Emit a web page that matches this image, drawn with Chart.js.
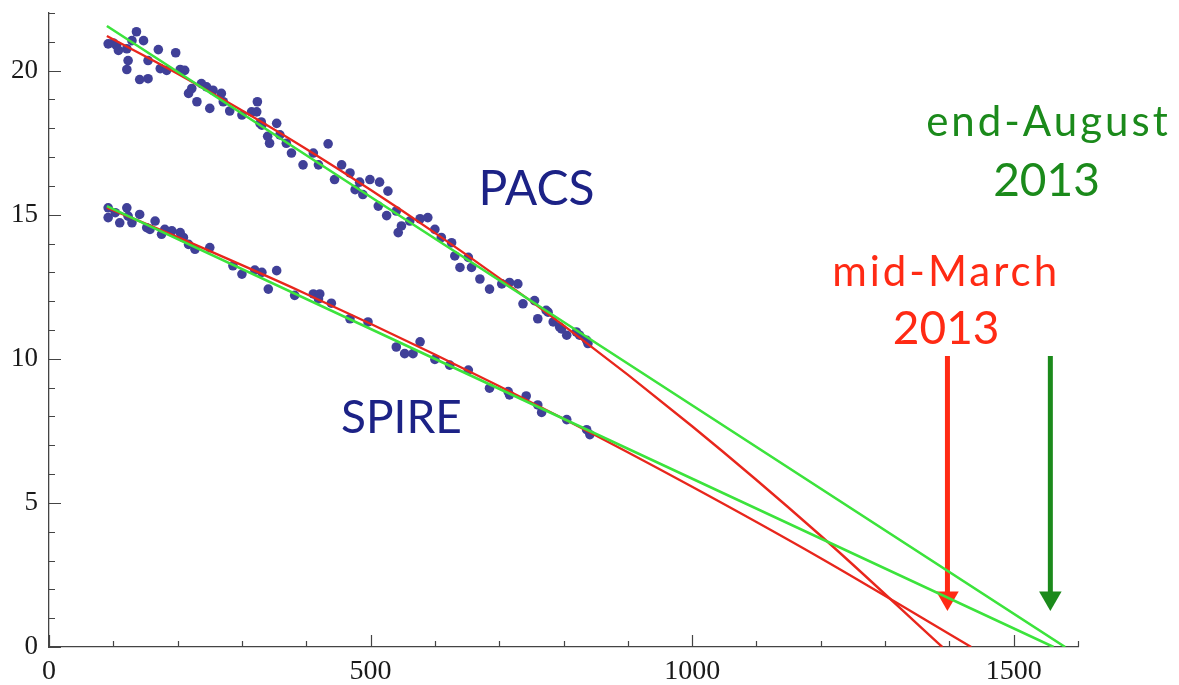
<!doctype html>
<html lang="en">
<head>
<meta charset="utf-8">
<title>PACS / SPIRE</title>
<script src="https://cdn.jsdelivr.net/npm/chart.js@4.4.1/dist/chart.umd.min.js"></script>
<style>
  html, body { margin: 0; padding: 0; background: #fff; }
  #wrap { width: 1179px; height: 685px; }
</style>
</head>
<body>
<div id="wrap"><canvas id="myChart"></canvas></div>
<script type="text/javascript">
// ---- data ----
var pacsX = [92, 100, 105, 108, 121, 123, 121, 129, 136, 147, 154, 154, 170, 173, 183, 197, 204, 211,
  217, 222, 230, 237, 245, 250, 255, 268, 271, 281, 300, 315, 324, 331, 340, 323, 328, 354, 343, 359,
  369, 377, 395, 411, 419, 434, 444, 455, 468, 476, 483, 499, 514, 527, 488, 512, 525, 540, 548, 561,
  577, 589, 600, 610, 626, 631, 652, 639, 657, 670, 685, 704, 716, 729, 737, 755, 760, 776, 784, 794,
  805, 820, 836, 825, 838, 773, 797, 141, 543, 330];
var pacsY = [20.93, 20.96, 20.87, 20.70, 20.76, 20.35, 20.04, 21.04, 21.35, 21.04, 20.35, 19.72, 20.73,
  20.07, 20.01, 20.62, 20.04, 20.01, 19.21, 19.38, 18.92, 19.55, 19.44, 18.69, 19.32, 19.21, 18.92,
  18.60, 18.46, 18.57, 18.92, 18.11, 17.72, 18.57, 18.17, 18.17, 17.48, 17.77, 17.48, 17.14, 16.73,
  17.14, 16.73, 17.46, 16.22, 16.73, 16.45, 15.87, 16.13, 16.22, 16.13, 15.82, 15.70, 15.30, 14.97,
  15.13, 14.61, 14.78, 14.86, 14.90, 14.49, 14.21, 14.03, 13.57, 13.52, 13.17, 13.17, 12.77, 12.42,
  12.60, 12.65, 12.60, 11.91, 12.02, 11.39, 11.62, 11.28, 11.10, 10.82, 10.93, 10.64, 10.82, 10.53,
  11.68, 11.04, 19.69, 14.38, 18.22];

var spireX = [92, 92, 103, 110, 121, 123, 129, 141, 152, 157, 165, 175, 180, 191, 204, 209, 217, 227,
  250, 286, 300, 320, 331, 341, 354, 382, 411, 421, 419, 439, 468, 496, 540, 553, 566, 577, 600, 623,
  652, 685, 714, 716, 742, 760, 766, 805, 836, 841];
var spireY = [15.24, 14.90, 15.07, 14.72, 15.24, 14.95, 14.72, 15.01, 14.55, 14.49, 14.78, 14.32, 14.49,
  14.44, 14.38, 14.21, 13.97, 13.80, 13.86, 13.23, 12.94, 13.08, 13.00, 12.42, 13.06, 12.20, 12.25,
  12.25, 12.08, 11.93, 11.39, 11.28, 10.41, 10.18, 10.18, 10.59, 9.98, 9.78, 9.61, 8.98, 8.86, 8.75,
  8.71, 8.40, 8.14, 7.89, 7.54, 7.37];

// fitted curves (red) and straight fits (green)
var pacsRedX = [90, 200, 400, 600, 800, 1000, 1200, 1389];
var pacsRedY = [21.20, 19.89, 17.28, 14.37, 11.16, 7.66, 3.86, 0];
var spireRedX = [90, 200, 400, 600, 800, 1000, 1200, 1434];
var spireRedY = [15.25, 14.22, 12.25, 10.15, 7.92, 5.56, 3.08, 0];
var pacsGreenX = [90, 1580];
var pacsGreenY = [21.55, 0];
var spireGreenX = [90, 1562];
var spireGreenY = [15.3, 0];

// arrows (x, top, head)
var redArrowX = 1397, greenArrowX = 1557;
var arrowTop = 10.1, arrowHead = 1.7;

// annotations
var labelText = ['PACS', 'SPIRE', 'end-August', '2013', 'mid-March', '2013'];
var labelX = [758, 548, 1554, 1551, 1395, 1395];
var labelY = [15.35, 7.42, 17.72, 15.65, 12.54, 10.53];

// axes
var xTicks = [0, 500, 1000, 1500];
var yTicks = [0, 5, 10, 15, 20];
var xMax = 1600, yMax = 22;

function pts(xs, ys) {
  var out = [];
  for (var i = 0; i < xs.length; i++) out.push({x: xs[i], y: ys[i]});
  return out;
}

var NAVY = '#1c2286';
var DOT = 'rgb(64,64,152)';
var RED = '#e8261c';
var LGREEN = '#3ce33c';
var ARROW_RED = '#ff2a14';
var DGREEN = '#1b8a1b';
var labelColor = [NAVY, NAVY, DGREEN, DGREEN, ARROW_RED, ARROW_RED];
var labelFont = ['48px Lato', '46px Lato', '42px Lato', '46px Lato', '42px Lato', '46px Lato'];
var labelSpacing = ['0px', '0px', '3px', '0px', '3px', '0px'];

// inward tick marks (Mathematica style)
var tickPlugin = {
  id: 'inTicks',
  afterDraw: function(chart) {
    var ctx = chart.ctx, xs = chart.scales.x, ys = chart.scales.y, a = chart.chartArea;
    ctx.save();
    ctx.strokeStyle = '#444';
    ctx.lineWidth = 1.2;
    ctx.beginPath();
    for (var v = 0; v <= xMax; v += 100) {
      var px = Math.round(xs.getPixelForValue(v)) + 0.5;
      var len = xTicks.indexOf(v) >= 0 ? 12 : 6;
      ctx.moveTo(px, a.bottom);
      ctx.lineTo(px, a.bottom - len);
    }
    for (var w = 0; w <= yMax; w += 1) {
      var py = Math.round(ys.getPixelForValue(w)) + 0.5;
      var l2 = yTicks.indexOf(w) >= 0 ? 12 : 6;
      ctx.moveTo(a.left, py);
      ctx.lineTo(a.left + l2, py);
    }
    ctx.stroke();
    ctx.restore();
  }
};

var textPlugin = {
  id: 'labels',
  afterDatasetsDraw: function(chart) {
    var ctx = chart.ctx, xs = chart.scales.x, ys = chart.scales.y;
    ctx.save();
    ctx.textAlign = 'center';
    ctx.textBaseline = 'alphabetic';
    for (var i = 0; i < labelText.length; i++) {
      ctx.font = labelFont[i];
      ctx.letterSpacing = labelSpacing[i];
      ctx.fillStyle = labelColor[i];
      ctx.fillText(labelText[i], xs.getPixelForValue(labelX[i]), ys.getPixelForValue(labelY[i]));
    }
    ctx.restore();
  }
};

var lineDs = function(xs, ys, color, width) {
  return {
    type: 'line', data: pts(xs, ys), borderColor: color, borderWidth: width,
    pointRadius: 0, fill: false, cubicInterpolationMode: 'monotone'
  };
};
var arrowDs = function(x, color) {
  return {
    type: 'line', data: [{x: x, y: arrowTop}, {x: x, y: arrowHead}],
    borderColor: color, backgroundColor: color, borderWidth: 5, borderCapStyle: 'butt',
    pointStyle: 'triangle', rotation: 180, pointRadius: [0, 13], pointBorderWidth: 0
  };
};

var ctx = document.getElementById('myChart').getContext('2d');
var chart = new Chart(ctx, {
  type: 'scatter',
  data: {
    datasets: [
      lineDs(pacsGreenX, pacsGreenY, LGREEN, 2.6),
      lineDs(spireGreenX, spireGreenY, LGREEN, 2.6),
      lineDs(pacsRedX, pacsRedY, RED, 2.4),
      lineDs(spireRedX, spireRedY, RED, 2.4),
      arrowDs(redArrowX, ARROW_RED),
      arrowDs(greenArrowX, DGREEN),
      { label: 'PACS', data: pts(pacsX, pacsY), backgroundColor: DOT, borderColor: DOT, pointRadius: 4.8, borderWidth: 0 },
      { label: 'SPIRE', data: pts(spireX, spireY), backgroundColor: DOT, borderColor: DOT, pointRadius: 4.8, borderWidth: 0 }
    ]
  },
  options: {
    responsive: true,
    maintainAspectRatio: false,
    animation: false,
    layout: { padding: { top: 8, right: 101, left: 0, bottom: 0 } },
    plugins: { legend: { display: false }, tooltip: { enabled: false } },
    scales: {
      x: {
        type: 'linear', min: 0, max: xMax,
        grid: { display: false, drawTicks: false },
        border: { display: true, color: '#444', width: 1.3 },
        ticks: {
          stepSize: 100, autoSkip: false, maxRotation: 0, padding: 8, color: '#1a1a1a',
          font: { family: 'Liberation Serif', size: 28 },
          callback: function(v) { return xTicks.indexOf(v) >= 0 ? String(v) : ''; }
        },
        afterFit: function(s) { s.height = 38; s.paddingLeft = 0; s.paddingRight = 0; }
      },
      y: {
        type: 'linear', min: 0, max: yMax,
        grid: { display: false, drawTicks: false },
        border: { display: true, color: '#444', width: 1.3 },
        ticks: {
          stepSize: 1, autoSkip: false, padding: 11, color: '#1a1a1a',
          font: { family: 'Liberation Serif', size: 27 },
          callback: function(v) { return yTicks.indexOf(v) >= 0 ? String(v) : ''; }
        },
        afterFit: function(s) { s.width = 49; s.paddingTop = 0; s.paddingBottom = 0; }
      }
    }
  },
  plugins: [tickPlugin, textPlugin]
});
</script>
</body>
</html>
